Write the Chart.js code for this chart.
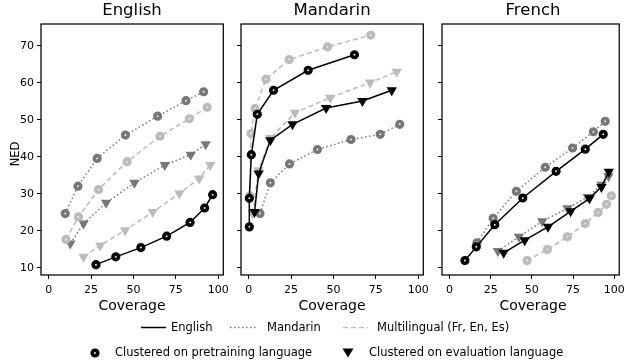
<!DOCTYPE html>
<html>
<head>
<meta charset="utf-8">
<script src="https://cdn.jsdelivr.net/npm/chart.js@4.4.0/dist/chart.umd.min.js"></script>
<style>
  body { margin: 0; background: #fff; font-family: "DejaVu Sans", sans-serif; }
  #wrap { position: relative; width: 630px; height: 360px; overflow: hidden; }
  canvas { position: absolute; left: 0; top: 0; }
  .t { position: absolute; white-space: nowrap; color: #000; line-height: 1; }
  .c { transform: translateX(-50%); }
  svg { position: absolute; left: 0; top: 0; }
</style>
</head>
<body>
<div id="wrap">
  <canvas id="c0" width="630" height="300"></canvas>
  <canvas id="c1" width="630" height="300"></canvas>
  <canvas id="c2" width="630" height="300"></canvas>

  <div class="t c" style="left:132px;top:2px;font-size:16.5px">English</div>
  <div class="t c" style="left:332px;top:2px;font-size:16.5px">Mandarin</div>
  <div class="t c" style="left:533px;top:2px;font-size:16.5px">French</div>
  <div class="t c" style="left:132px;top:298px;font-size:14px">Coverage</div>
  <div class="t c" style="left:332px;top:298px;font-size:14px">Coverage</div>
  <div class="t c" style="left:533px;top:298px;font-size:14px">Coverage</div>
  <div class="t" style="left:16px;top:154px;font-size:11.5px;transform:translate(-50%,-50%) rotate(-90deg)">NED</div>

  <svg width="630" height="360">
    <line x1="141" y1="327.5" x2="166" y2="327.5" stroke="#000" stroke-width="1.5"/>
    <line x1="230" y1="327.5" x2="257" y2="327.5" stroke="#777" stroke-width="1.5" stroke-dasharray="1.5,2.5"/>
    <line x1="343" y1="327.5" x2="368" y2="327.5" stroke="#bbb" stroke-width="1.5" stroke-dasharray="5,3"/>
    <circle cx="95" cy="353" r="2.8" fill="#e8e8e8" stroke="#000" stroke-width="3.6"/>
    <polygon points="342.5,348.5 353.5,348.5 348,357.5" fill="#000"/>
  </svg>
  <div class="t" style="left:171px;top:322px;font-size:11.5px">English</div>
  <div class="t" style="left:267px;top:322px;font-size:11.5px">Mandarin</div>
  <div class="t" style="left:377px;top:322px;font-size:11.5px">Multilingual (Fr, En, Es)</div>
  <div class="t" style="left:115px;top:347px;font-size:11.5px">Clustered on pretraining language</div>
  <div class="t" style="left:369px;top:347px;font-size:11.5px">Clustered on evaluation language</div>
</div>

<script>
// axis ticks
const xTicks = [0, 25, 50, 75, 100];
const yTicks = [10, 20, 30, 40, 50, 60, 70];

// --- English panel ---
const enMandPreX = [9.8, 17.3, 28.6, 45.3, 64.3, 81, 91.4];
const enMandPreY = [24.7, 32.1, 39.6, 45.9, 51, 55.2, 57.6];
const enMultiPreX = [10.2, 17.6, 29.4, 46.3, 65.7, 83, 93.5];
const enMultiPreY = [17.7, 23.8, 31.2, 38.7, 45.6, 50.3, 53.4];
const enMandEvalX = [12.8, 20.6, 33.9, 50.6, 68.5, 83.8, 92.6];
const enMandEvalY = [16.6, 22, 27.6, 33, 37.8, 40.6, 43.4];
const enMultiEvalX = [20.6, 30.4, 45.1, 61.4, 77.1, 88.8, 95.3];
const enMultiEvalY = [13, 16.1, 20.2, 25.1, 30.1, 34.2, 37.8];
const enEngPreX = [27.9, 39.6, 54.4, 69.6, 83.4, 92, 96.7];
const enEngPreY = [10.9, 13, 15.5, 18.6, 22.3, 26.2, 29.8];

// --- Mandarin panel ---
const zhMultiPreX = [0.8, 1.4, 3.8, 10.2, 23.9, 46.5, 72];
const zhMultiPreY = [29.5, 46.3, 53.1, 61, 66.3, 69.7, 72.9];
const zhEngPreX = [0.4, 0.4, 1.6, 5.1, 14.7, 35.1, 62.4];
const zhEngPreY = [21.1, 28.8, 40.6, 51.5, 58, 63.4, 67.6];
const zhMultiEvalX = [2.4, 5.9, 12.8, 27.3, 48.1, 71.6, 87.3];
const zhMultiEvalY = [24.7, 36.4, 45.1, 51.9, 56, 60.1, 63];
const zhEngEvalX = [3.5, 5.9, 12.8, 25.9, 45.7, 67.1, 84.4];
const zhEngEvalY = [25.1, 35.5, 44.5, 48.8, 53.2, 55.1, 58];
const zhMandPreX = [6.7, 12.8, 24.1, 40.6, 60.4, 77.6, 89.1];
const zhMandPreY = [24.7, 33, 38.1, 42, 44.7, 46.1, 48.8];

// --- French panel ---
const frMandPreX = [16.7, 26.5, 40.6, 58.1, 74.7, 87.3, 94.5];
const frMandPreY = [16.8, 23.4, 30.7, 37.2, 42.4, 46.8, 49.6];
const frEngPreX = [9.4, 16.3, 27.5, 44.5, 64.7, 82.4, 93.3];
const frEngPreY = [12, 15.7, 21.7, 28.9, 36.1, 42.1, 46.1];
const frMandEvalX = [29.4, 42.2, 56.3, 71.6, 83.9, 92.2, 96.5];
const frMandEvalY = [14.6, 18.4, 22.6, 26.1, 29.2, 32.5, 34.8];
const frEngEvalX = [32.9, 45.7, 59.8, 73.5, 85, 92.2, 96.7];
const frEngEvalY = [14.1, 17.5, 21.1, 25.3, 28.8, 31.9, 36];
const frMultiPreX = [47.1, 59.4, 71.6, 82.4, 90.2, 95.3, 98.2];
const frMultiPreY = [12, 15, 18.4, 22, 25, 27.2, 29.5];

const langStyle = {
  eng: { color: '#000', dash: [] },
  mand: { color: '#777', dash: [1.5, 2.5] },
  multi: { color: '#bbb', dash: [5, 3] }
};

function series(xs, ys, lang, marker) {
  let st = langStyle[lang];
  let ds = {
    data: xs.map((x, i) => ({ x: x, y: ys[i] })),
    showLine: true,
    borderColor: st.color,
    borderDash: st.dash,
    borderWidth: 1.5,
    pointBorderColor: st.color
  };
  if (marker == 'circle') {
    ds.pointStyle = 'circle';
    ds.pointRadius = 2.8;
    ds.pointBorderWidth = 3.6;
    ds.pointBackgroundColor = '#e8e8e8';
  } else {
    ds.pointStyle = 'triangle';
    ds.pointRotation = 180;
    ds.pointRadius = 6;
    ds.pointBorderWidth = 0;
    ds.pointBackgroundColor = st.color;
  }
  return ds;
}

// draws the box round each panel
const framePlugin = {
  id: 'frame',
  afterDraw(chart) {
    const a = chart.chartArea;
    const ctx = chart.ctx;
    ctx.save();
    ctx.strokeStyle = '#000';
    ctx.lineWidth = 1.25;
    ctx.strokeRect(a.left, a.top, a.right - a.left, a.bottom - a.top);
    ctx.restore();
  }
};

function makePanel(id, datasets, frameLeft, frameRight, showY) {
  const yW = showY ? frameLeft : 5;
  const tickFont = { family: 'DejaVu Sans', size: 11 };
  return new Chart(document.getElementById(id), {
    type: 'scatter',
    data: { datasets: datasets },
    options: {
      responsive: false,
      animation: false,
      events: [],
      layout: { padding: { left: frameLeft - yW, right: 630 - frameRight, top: 24, bottom: 5 } },
      plugins: { legend: { display: false }, tooltip: { enabled: false } },
      scales: {
        x: {
          type: 'linear', min: -4.5, max: 103,
          afterBuildTicks: s => { s.ticks = xTicks.map(v => ({ value: v })); },
          afterFit: s => { s.height = 20; },
          ticks: { font: tickFont, color: '#000', padding: 5, autoSkip: false, maxRotation: 0 },
          grid: { drawOnChartArea: false, drawTicks: true, tickLength: 4, color: '#000', lineWidth: 1 },
          border: { display: false }
        },
        y: {
          type: 'linear', min: 8.1, max: 75.9,
          afterBuildTicks: s => { s.ticks = yTicks.map(v => ({ value: v })); },
          afterFit: s => { s.width = yW; },
          ticks: { display: showY, font: tickFont, color: '#000', padding: 3, autoSkip: false },
          grid: { drawOnChartArea: false, drawTicks: true, tickLength: 4, color: '#000', lineWidth: 1 },
          border: { display: false }
        }
      }
    },
    plugins: [framePlugin]
  });
}

makePanel('c0', [
  series(enEngPreX, enEngPreY, 'eng', 'circle'),
  series(enMandPreX, enMandPreY, 'mand', 'circle'),
  series(enMultiPreX, enMultiPreY, 'multi', 'circle'),
  series(enMandEvalX, enMandEvalY, 'mand', 'tri'),
  series(enMultiEvalX, enMultiEvalY, 'multi', 'tri')
], 41, 223.3, true);

makePanel('c1', [
  series(zhEngPreX, zhEngPreY, 'eng', 'circle'),
  series(zhEngEvalX, zhEngEvalY, 'eng', 'tri'),
  series(zhMandPreX, zhMandPreY, 'mand', 'circle'),
  series(zhMultiPreX, zhMultiPreY, 'multi', 'circle'),
  series(zhMultiEvalX, zhMultiEvalY, 'multi', 'tri')
], 241, 423.3, false);

makePanel('c2', [
  series(frEngPreX, frEngPreY, 'eng', 'circle'),
  series(frEngEvalX, frEngEvalY, 'eng', 'tri'),
  series(frMandPreX, frMandPreY, 'mand', 'circle'),
  series(frMandEvalX, frMandEvalY, 'mand', 'tri'),
  series(frMultiPreX, frMultiPreY, 'multi', 'circle')
], 442, 623.5, false);
</script>
</body>
</html>
